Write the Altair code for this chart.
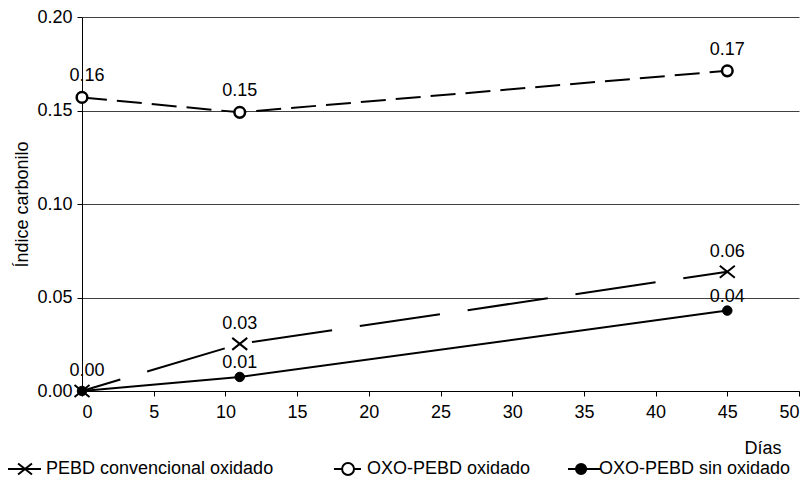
import altair as alt
import pandas as pd

# ---- data ----
dias = [0, 11, 45]
pebd_conv = [0.0, 0.0252, 0.0638]
oxo_ox = [0.157, 0.149, 0.1712]
oxo_sin = [0.0, 0.0075, 0.043]
series = ["PEBD convencional oxidado", "OXO-PEBD oxidado", "OXO-PEBD sin oxidado"]
x_ticks = [0, 5, 10, 15, 20, 25, 30, 35, 40, 45, 50]
y_ticks = [0.0, 0.05, 0.10, 0.15, 0.20]

rows = []
for s, vals in zip(series, [pebd_conv, oxo_ox, oxo_sin]):
    for d, v in zip(dias, vals):
        rows.append({"serie": s, "dias": d, "indice": v})
df = pd.DataFrame(rows)

FONT = "Liberation Sans"

x_enc = alt.X(
    "dias:Q",
    scale=alt.Scale(domain=[0, 50], nice=False),
    axis=alt.Axis(values=x_ticks, title="Días", grid=False, titleX=699, titleY=62,
                  titleAlign="right", titleBaseline="alphabetic", labelPadding=7,
                  tickSize=5),
)
y_enc = alt.Y(
    "indice:Q",
    scale=alt.Scale(domain=[0, 0.2], nice=False),
    axis=alt.Axis(values=y_ticks, format=".2f", title="Índice carbonilo", grid=True,
                  titleX=-55, titleY=187, titleAlign="center", titleBaseline="alphabetic",
                  titleAngle=270, labelPadding=5, tickSize=5),
)

base = alt.Chart(df)


def sel(s):
    return base.transform_filter(alt.datum.serie == s)


line_pebd = sel(series[0]).mark_line(color="black", strokeWidth=2, strokeDash=[81, 28],
                                     strokeDashOffset=41).encode(x=x_enc, y=y_enc)
line_oxo = sel(series[1]).mark_line(color="black", strokeWidth=2, strokeDash=[25, 10]
                                    ).encode(x=x_enc, y=y_enc)
line_sin = sel(series[2]).mark_line(color="black", strokeWidth=2).encode(x=x_enc, y=y_enc)

X_PATH = "M-1,-0.8L1,0.8M-1,0.8L1,-0.8"
pts_pebd = sel(series[0]).mark_point(shape=X_PATH, size=225, stroke="black", strokeWidth=2,
                                     filled=False, opacity=1).encode(x=x_enc, y=y_enc)
pts_sin = sel(series[2]).mark_point(shape="circle", size=90, fill="black", stroke="black",
                                    strokeWidth=1, filled=True, opacity=1).encode(x=x_enc, y=y_enc)
pts_oxo = sel(series[1]).mark_point(shape="circle", size=113, fill="white", stroke="black",
                                    strokeWidth=2.5, filled=True, opacity=1).encode(x=x_enc, y=y_enc)

txt_kw = dict(font=FONT, fontSize=18, color="black")


def labels(s, dy, start=True):
    first = sel(s).transform_filter(alt.datum.dias == 0).mark_text(dy=dy, dx=5, **txt_kw).encode(
        x=x_enc, y=y_enc, text=alt.Text("indice:Q", format=".2f"))
    rest = sel(s).transform_filter(alt.datum.dias > 0).mark_text(dy=dy, **txt_kw).encode(
        x=x_enc, y=y_enc, text=alt.Text("indice:Q", format=".2f"))
    return [first, rest] if start else [rest]


label_layers = labels(series[0], -20) + labels(series[1], -21) + labels(series[2], -14, start=False)

legend_paths = [
    "M-1,0H1M-0.35,-0.32L0.47,0.32M-0.35,0.32L0.47,-0.32",
    "M-0.65,0H-0.17M0.53,0H0.94M-0.17,0A0.35,0.35 0 1,1 0.53,0A0.35,0.35 0 1,1 -0.17,0Z",
    "M-0.53,0H1.41M-0.06,0A0.3,0.3 0 1,1 0.54,0A0.3,0.3 0 1,1 -0.06,0Z",
]
legend_fill = ["white", "white", "black"]
legend_x = [-76, 245, 477]


def legend_layer(i):
    leg = alt.Legend(orient="none", legendX=legend_x[i], legendY=434, direction="horizontal",
                     labelFontSize=18, labelFont=FONT, labelColor="black",
                     symbolSize=1156, symbolStrokeWidth=2, symbolStrokeColor="black",
                     symbolOpacity=1, labelOffset=4, labelLimit=0, title=None)
    dom = [series[i]]
    return base.transform_filter("false").mark_point(opacity=1, strokeWidth=2).encode(
        x=x_enc, y=y_enc,
        shape=alt.Shape("serie:N", scale=alt.Scale(domain=dom, range=[legend_paths[i]]), legend=leg),
        fill=alt.Fill("serie:N", scale=alt.Scale(domain=dom, range=[legend_fill[i]]), legend=leg),
        stroke=alt.Stroke("serie:N", scale=alt.Scale(domain=dom, range=["black"]), legend=leg),
    )


chart = alt.layer(
    line_pebd, line_oxo, line_sin, pts_sin, pts_pebd, pts_oxo,
    *label_layers, legend_layer(0), legend_layer(1), legend_layer(2),
).resolve_scale(
    shape="independent", fill="independent", stroke="independent",
).resolve_legend(
    shape="independent", fill="independent", stroke="independent",
).properties(
    width=717, height=374,
    autosize=alt.AutoSizeParams(type="none"),
    padding={"left": 74, "top": 9, "right": 2, "bottom": 87},
).configure_axis(
    labelFont=FONT, labelFontSize=18, titleFont=FONT, titleFontSize=18,
    titleFontWeight="normal", labelColor="black", titleColor="black",
    domainColor="black", tickColor="black", gridColor="#404040", gridWidth=1,
    domainWidth=1, tickWidth=1,
).configure_view(stroke=None)

chart.save("out.html", embed_options={"renderer": "svg", "actions": False})
